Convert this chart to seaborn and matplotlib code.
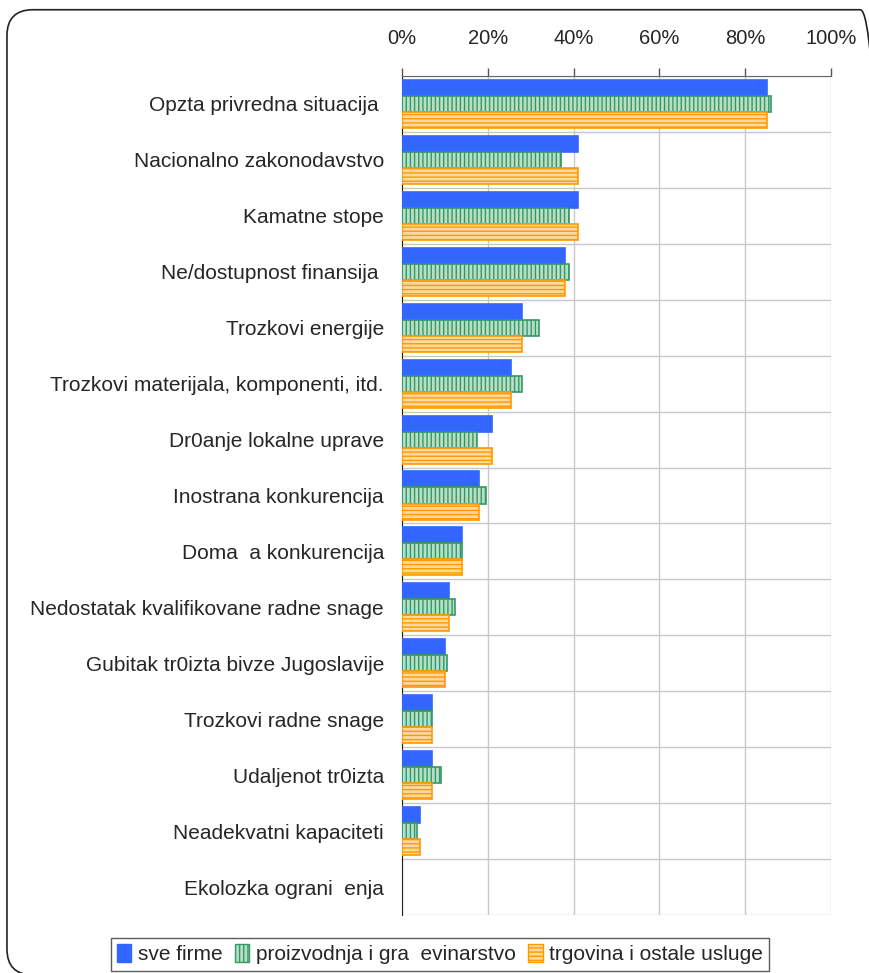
import numpy as np
import pandas as pd
import seaborn as sns
import matplotlib.pyplot as plt
from matplotlib.patches import Patch, FancyBboxPatch

categories = [
    'Opzta privredna situacija ',
    'Nacionalno zakonodavstvo',
    'Kamatne stope',
    'Ne/dostupnost finansija ',
    'Trozkovi energije',
    'Trozkovi materijala, komponenti, itd.',
    'Dr0anje lokalne uprave',
    'Inostrana konkurencija',
    'Doma  a konkurencija',
    'Nedostatak kvalifikovane radne snage',
    'Gubitak tr0izta bivze Jugoslavije',
    'Trozkovi radne snage',
    'Udaljenot tr0izta',
    'Neadekvatni kapaciteti',
    'Ekolozka ograni  enja',
]
series = ['sve firme', 'proizvodnja i gra  evinarstvo', 'trgovina i ostale usluge']
sve_firme = [85, 41, 41, 38, 28, 25.5, 21, 18, 14, 11, 10, 7, 7, 4.3, 0]
proizvodnja = [86, 37, 39, 39, 32, 28, 17.5, 19.5, 14, 12.3, 10.5, 7, 9, 3.6, 0]
trgovina = [85, 41, 41, 38, 28, 25.5, 21, 18, 14, 11, 10, 7, 7, 4.3, 0]

df = pd.DataFrame({
    'kategorija': categories * 3,
    'serija': np.repeat(series, len(categories)),
    'vrednost': sve_firme + proizvodnja + trgovina,
})

sns.set_style('white')
plt.rcParams['font.family'] = ['Liberation Sans', 'DejaVu Sans']
plt.rcParams['hatch.linewidth'] = 1.0

fig = plt.figure(figsize=(8.69, 9.73), dpi=100)
ax = fig.add_axes([0.4626, 0.0596, 0.4937, 0.8623])

face = ['#3366FF', '#B8DEC8', '#FFD9A0']
edge = ['#3366FF', '#339966', '#FF9900']
hatch = [None, '||||', '----']

sns.barplot(data=df, y='kategorija', x='vrednost', hue='serija', orient='h',
            order=categories, hue_order=series, width=0.86, legend=False,
            ax=ax, zorder=3)
for i, cont in enumerate(ax.containers):
    for p in cont:
        p.set_facecolor(face[i])
        p.set_edgecolor(edge[i])
        p.set_linewidth(1.2 if p.get_width() > 0 else 0)
        if hatch[i]:
            p.set_hatch(hatch[i])

ax.set_xlim(0, 100)
ax.set_ylim(len(categories) - 0.5, -0.5)
ax.xaxis.tick_top()
ax.set_xticks(np.arange(0, 101, 20))
ax.set_xticklabels([f'{v}%' for v in range(0, 101, 20)], fontsize=14.5)
ax.tick_params(axis='x', direction='out', length=6, width=1, color='#555555', pad=14)
ax.set_xlabel('')
ax.set_ylabel('')

ax.set_yticks(np.arange(len(categories)))
ax.set_yticklabels(categories, fontsize=15)
ax.set_yticks(np.arange(len(categories) + 1) - 0.5, minor=True)
ax.tick_params(axis='y', which='major', length=0, pad=13)
ax.tick_params(axis='y', which='minor', direction='out', length=6, width=1, color='#333333')

ax.grid(axis='x', which='major', color='#C8C8C8', lw=1, zorder=0)
ax.grid(axis='y', which='minor', color='#C8C8C8', lw=1, zorder=0)
ax.set_axisbelow(True)
for s in ['right', 'bottom']:
    ax.spines[s].set_visible(False)
ax.spines['left'].set_color('#222222')
ax.spines['top'].set_color('#666666')

handles = [Patch(facecolor=face[i], edgecolor=edge[i], hatch=hatch[i], label=series[i])
           for i in range(3)]
leg = fig.legend(handles=handles, loc='center', bbox_to_anchor=(0.506, 0.0195), ncol=3,
                 fontsize=15, frameon=True, fancybox=False, handlelength=0.7,
                 handleheight=1.0, handletextpad=0.3, columnspacing=0.6,
                 borderpad=0.3)
leg.get_frame().set_edgecolor('#333333')
leg.get_frame().set_linewidth(1)

# rounded frame round the whole picture, right side runs off the canvas
border = FancyBboxPatch((0.008, -0.002), 1.012, 0.992,
                        boxstyle='round,pad=0,rounding_size=0.03',
                        mutation_aspect=869 / 973,
                        transform=fig.transFigure, fill=False, edgecolor='#222222', lw=1.2)
fig.patches.append(border)

fig.savefig('out.png', dpi=100)
